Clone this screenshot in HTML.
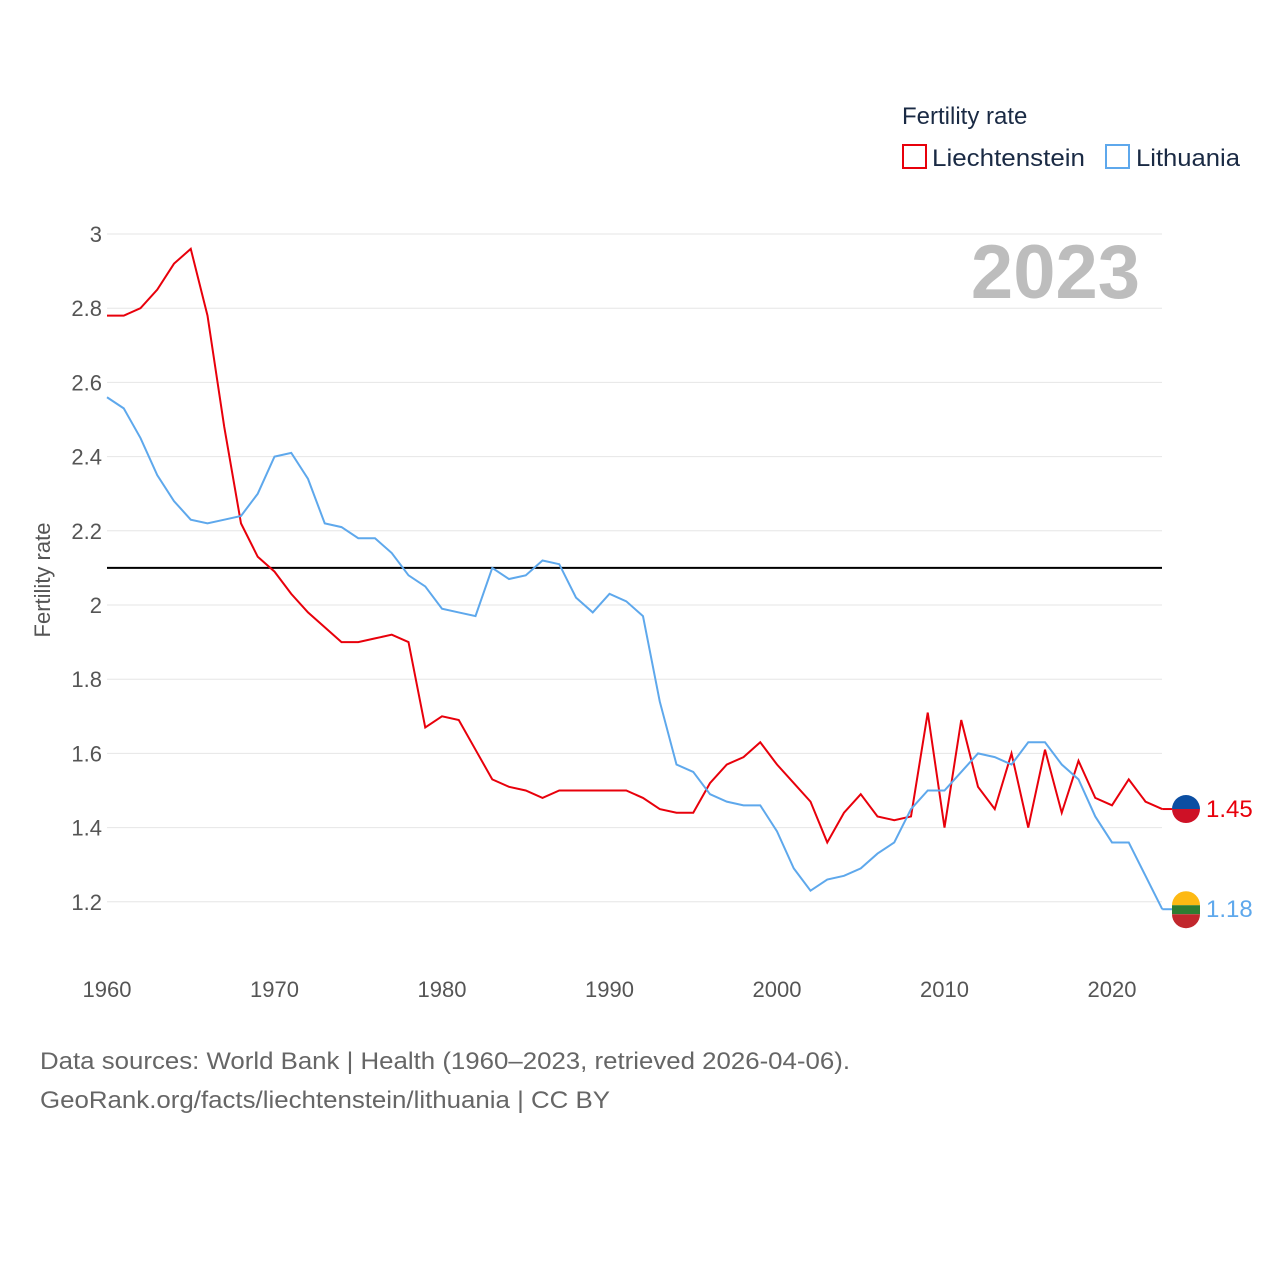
<!DOCTYPE html>
<html><head><meta charset="utf-8"><style>
body{margin:0;background:#fff;width:1280px;height:1280px;overflow:hidden}
svg text{font-family:"Liberation Sans",sans-serif}
</style></head><body>
<svg id="chart" width="1280" height="1280" xmlns="http://www.w3.org/2000/svg">
<g id="grid"></g>
<g id="yticks"></g>
<g id="xticks"></g>
<text x="1140" y="298" text-anchor="end" font-size="76" font-weight="bold" fill="#bdbdbd">2023</text>
<text transform="translate(50,580) rotate(-90)" text-anchor="middle" font-size="22" fill="#555">Fertility rate</text>
<line id="refline" x1="107" x2="1162" stroke="#000" stroke-width="2"/>
<g id="series"></g>
<text x="902" y="124" font-size="24" fill="#1a2a44">Fertility rate</text>
<g><rect x="903" y="145" width="23" height="23" fill="none" stroke="#e8000b" stroke-width="2"/><text x="932" y="166" font-size="24" fill="#1a2a44" textLength="153" lengthAdjust="spacingAndGlyphs">Liechtenstein</text></g>
<g><rect x="1106" y="145" width="23" height="23" fill="none" stroke="#5ea8ec" stroke-width="2"/><text x="1136" y="166" font-size="24" fill="#1a2a44" textLength="104" lengthAdjust="spacingAndGlyphs">Lithuania</text></g>
<g id="ends"></g>
<text x="40" y="1069" font-size="24" fill="#666" textLength="810" lengthAdjust="spacingAndGlyphs">Data sources: World Bank | Health (1960–2023, retrieved 2026-04-06).</text>
<text x="40" y="1108" font-size="24" fill="#666" textLength="570" lengthAdjust="spacingAndGlyphs">GeoRank.org/facts/liechtenstein/lithuania | CC BY</text>
</svg>
<script>
const years=[];for(let y=1960;y<=2023;y++)years.push(y);
const liechtenstein=[2.78,2.78,2.80,2.85,2.92,2.96,2.78,2.48,2.22,2.13,2.09,2.03,1.98,1.94,1.90,1.90,1.91,1.92,1.90,1.67,1.70,1.69,1.61,1.53,1.51,1.50,1.48,1.50,1.50,1.50,1.50,1.50,1.48,1.45,1.44,1.44,1.52,1.57,1.59,1.63,1.57,1.52,1.47,1.36,1.44,1.49,1.43,1.42,1.43,1.71,1.40,1.69,1.51,1.45,1.60,1.40,1.61,1.44,1.58,1.48,1.46,1.53,1.47,1.45];
const lithuania=[2.56,2.53,2.45,2.35,2.28,2.23,2.22,2.23,2.24,2.30,2.40,2.41,2.34,2.22,2.21,2.18,2.18,2.14,2.08,2.05,1.99,1.98,1.97,2.10,2.07,2.08,2.12,2.11,2.02,1.98,2.03,2.01,1.97,1.74,1.57,1.55,1.49,1.47,1.46,1.46,1.39,1.29,1.23,1.26,1.27,1.29,1.33,1.36,1.45,1.50,1.50,1.55,1.60,1.59,1.57,1.63,1.63,1.57,1.53,1.43,1.36,1.36,1.27,1.18];
const yTicks=[1.2,1.4,1.6,1.8,2,2.2,2.4,2.6,2.8,3];
const xTicks=[1960,1970,1980,1990,2000,2010,2020];
const refValue=2.1;
const X=y=>107+(y-1960)*16.75;
const Y=v=>234+(3-v)*371;
const NS="http://www.w3.org/2000/svg";
function mk(t,a,p){const e=document.createElementNS(NS,t);for(const k in a)e.setAttribute(k,a[k]);p.appendChild(e);return e;}
const grid=document.getElementById('grid'),yt=document.getElementById('yticks'),xt=document.getElementById('xticks');
yTicks.forEach(v=>{
 const l=mk('line',{x1:107,x2:1162,y1:Y(v),y2:Y(v),stroke:'#e6e6e6'},grid);
 
 
 const t=mk('text',{x:102,y:Y(v)+8,'text-anchor':'end','font-size':22,fill:'#555'},yt);
 t.textContent=String(v);
 
 
});
xTicks.forEach(v=>{
 const t=mk('text',{x:X(v),y:997,'text-anchor':'middle','font-size':22,fill:'#555'},xt);
 t.textContent=v;
 
 
});
const rl=document.getElementById('refline');rl.setAttribute('y1',Y(refValue));rl.setAttribute('y2',Y(refValue));
const sg=document.getElementById('series'),ends=document.getElementById('ends');
[[liechtenstein,'#e8000b','liechtenstein'],[lithuania,'#5ea8ec','lithuania']].forEach(([d,c,n])=>{
 const p=mk('polyline',{points:d.map((v,i)=>X(years[i])+','+Y(v)).join(' '),fill:'none',stroke:c,'stroke-width':2},sg);
 
 
 const last=d[d.length-1],ly=Y(last);
 mk('line',{x1:X(2023),x2:1172,y1:ly,y2:ly,stroke:c,'stroke-width':2},ends);
 const cy=ly;
 const g=mk('g',{},ends);
 
 
 if(n==='liechtenstein'){
  mk('path',{d:`M1172 ${cy} a14 14 0 0 1 28 0z`,fill:'#0b4ea2'},g);
  mk('path',{d:`M1172 ${cy} a14 14 0 0 0 28 0z`,fill:'#ce1126'},g);
 }else{
  mk('path',{d:`M1172 ${cy-4} a14 14 0 0 1 28 0z`,fill:'#fdb913'},g);
  mk('rect',{x:1172,y:cy-4,width:28,height:9,fill:'#2e7d32'},g);
  mk('path',{d:`M1172 ${cy+5} a14 14 0 0 0 28 0z`,fill:'#c1272d'},g);
 }
 const t=mk('text',{x:1206,y:ly+8,'font-size':24,fill:c},ends);
 t.textContent=last.toFixed(2);
 
 
});
</script>
</body></html>
